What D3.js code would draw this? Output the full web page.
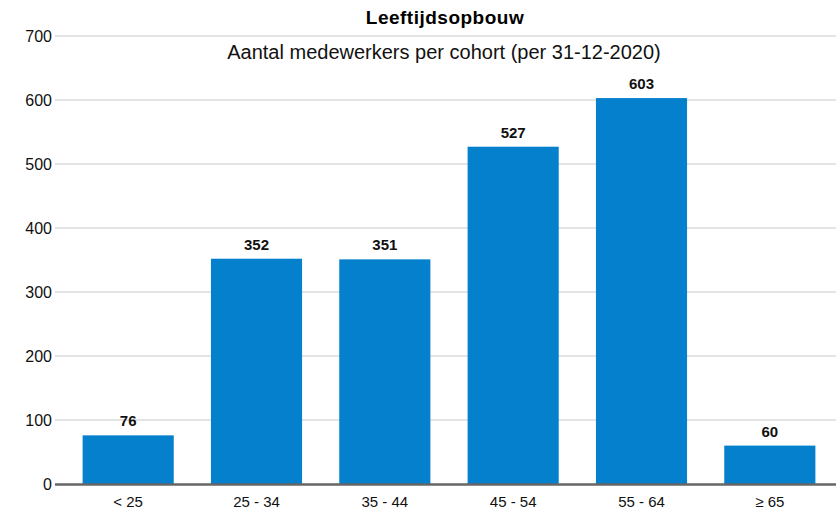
<!DOCTYPE html>
<html>
<head>
<meta charset="utf-8">
<script src="https://cdn.jsdelivr.net/npm/d3@7"></script>
<style>
  body { margin: 0; background: #fff; }
  svg { font-family: "Liberation Sans", Arial, sans-serif; }
</style>
</head>
<body>
<svg id="chart" width="836" height="511"></svg>
<script>
// data
const cohorts = ["< 25", "25 - 34", "35 - 44", "45 - 54", "55 - 64", "\u2265 65"];
const headcount = [76, 352, 351, 527, 603, 60];
const yTicks = [0, 100, 200, 300, 400, 500, 600, 700];

const svg = d3.select("#chart");
const W = 836, H = 511;
const plotLeft = 64, plotRight = 834, plotTop = 36, plotBottom = 484;

const x = d3.scaleBand().domain(cohorts).range([plotLeft, plotRight]).paddingInner(0.29).paddingOuter(0.145);
const y = d3.scaleLinear().domain([0, 700]).range([plotBottom, plotTop]);

// gridlines
svg.append("g")
  .selectAll("line")
  .data(yTicks.filter(d => d > 0))
  .enter().append("line")
  .attr("x1", 55).attr("x2", W)
  .attr("y1", d => y(d)).attr("y2", d => y(d))
  .attr("stroke", "#c9c9c9").attr("stroke-width", 1);

// y labels
svg.append("g")
  .selectAll("text")
  .data(yTicks)
  .enter().append("text")
  .attr("x", 52).attr("y", d => y(d))
  .attr("dy", "0.36em")
  .attr("text-anchor", "end")
  .attr("font-size", 16)
  .attr("fill", "#111")
  .text(d => d);

// bars
svg.append("g")
  .selectAll("rect")
  .data(headcount)
  .enter().append("rect")
  .attr("x", (d, i) => x(cohorts[i]))
  .attr("width", x.bandwidth())
  .attr("y", d => y(d))
  .attr("height", d => y(0) - y(d))
  .attr("fill", "#0480cc");

// value labels
svg.append("g")
  .selectAll("text")
  .data(headcount)
  .enter().append("text")
  .attr("x", (d, i) => x(cohorts[i]) + x.bandwidth() / 2)
  .attr("y", d => y(d) - 9)
  .attr("text-anchor", "middle")
  .attr("font-size", 15)
  .attr("font-weight", "bold")
  .attr("fill", "#111")
  .text(d => d);

// zero axis line
svg.append("line")
  .attr("x1", 55).attr("x2", W)
  .attr("y1", y(0) + 0.5).attr("y2", y(0) + 0.5)
  .attr("stroke", "#666").attr("stroke-width", 2.5);

// x labels
svg.append("g")
  .selectAll("text")
  .data(cohorts)
  .enter().append("text")
  .attr("x", d => x(d) + x.bandwidth() / 2)
  .attr("y", 507)
  .attr("text-anchor", "middle")
  .attr("font-size", 15)
  .attr("fill", "#111")
  .text(d => d);

// titles
svg.append("text")
  .attr("x", 445).attr("y", 24)
  .attr("text-anchor", "middle")
  .attr("font-size", 19).attr("font-weight", "bold")
  .attr("letter-spacing", 0.5)
  .attr("fill", "#000")
  .text("Leeftijdsopbouw");

svg.append("text")
  .attr("x", 444).attr("y", 59)
  .attr("text-anchor", "middle")
  .attr("font-size", 20)
  .attr("fill", "#111")
  .text("Aantal medewerkers per cohort (per 31-12-2020)");
</script>
</body>
</html>
